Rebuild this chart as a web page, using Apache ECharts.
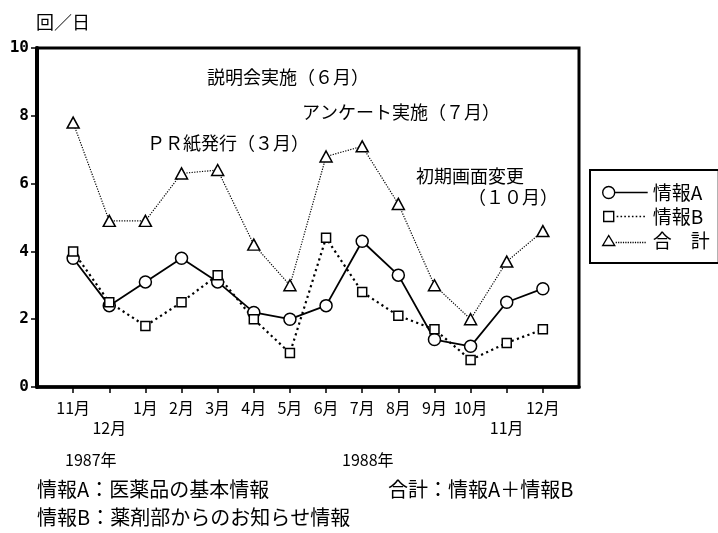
<!DOCTYPE html>
<html><head><meta charset="utf-8">
<script src="https://cdn.jsdelivr.net/npm/echarts@6/dist/echarts.min.js"></script>
<style>html,body{margin:0;padding:0;background:#fff}#c{width:718px;height:533px}</style>
</head><body><div id="c"></div>
<script>
// ---- data ----
const months = ['11月','12月','1月','2月','3月','4月','5月','6月','7月','8月','9月','10月','11月','12月'];
const loweredLabels = [1, 12];
const infoA = [3.8, 2.4, 3.1, 3.8, 3.1, 2.2, 2.0, 2.4, 4.3, 3.3, 1.4, 1.2, 2.5, 2.9];
const infoB = [4.0, 2.5, 1.8, 2.5, 3.3, 2.0, 1.0, 4.4, 2.8, 2.1, 1.7, 0.8, 1.3, 1.7];
const total = [7.8, 4.9, 4.9, 6.3, 6.4, 4.2, 3.0, 6.8, 7.1, 5.4, 3.0, 2.0, 3.7, 4.6];
const seriesNames = ['情報A', '情報B', '合　計'];
const yMin = 0, yMax = 10, yStep = 2;

const JP = '"Noto Sans CJK JP", sans-serif';
const idx = months.map((m, i) => i);

function dots(x0, x1, y, len, gap) {
  let s = '';
  for (let x = x0; x + len <= x1; x += len + gap) s += ' M' + x + ',' + y + ' L' + (x + len) + ',' + y;
  return s;
}
const iconA = 'path://M0,6 A6,6 0 1,1 12,6 A6,6 0 1,1 0,6 Z M12,6 L45,6';
const iconB = 'path://M0,0 L0,0 M45,12 L45,12 M1,1 L11,1 L11,11 L1,11 Z' + dots(14, 45, 6, 1.6, 2.2);
const iconT = 'path://M0,0 L0,0 M45,12 L45,12 M0,11 L6,1 L12,11 Z' + dots(13, 45, 8, 1.2, 1.2);
const legStyle = {color: '#fff', borderColor: '#000', borderWidth: 1.4};

const chart = echarts.init(document.getElementById('c'));
chart.setOption({
  animation: false,
  backgroundColor: '#fff',
  grid: {left: 37, right: 139, top: 48, bottom: 146, show: true, borderColor: '#000', borderWidth: 3},
  xAxis: {
    type: 'value', min: -1, max: months.length, interval: 1,
    axisLine: {onZero: false, lineStyle: {color: '#000', width: 3.5}},
    axisTick: {show: true, customValues: idx, length: 6, lineStyle: {color: '#000', width: 1.5}},
    axisLabel: {
      customValues: idx, color: '#000', fontFamily: JP, fontSize: 16, lineHeight: 20, margin: 11,
      formatter: v => (loweredLabels.indexOf(v) >= 0 ? '\n' : '') + months[v]
    },
    splitLine: {show: false}
  },
  yAxis: {
    type: 'value', min: yMin, max: yMax, interval: yStep,
    axisLine: {show: true, onZero: false, lineStyle: {color: '#000', width: 4}},
    axisTick: {show: true, length: 6, lineStyle: {color: '#000', width: 1.5}},
    axisLabel: {color: '#000', fontFamily: '"DejaVu Sans Mono", monospace', fontWeight: 'bold', fontSize: 16, margin: 8},
    splitLine: {show: false}
  },
  legend: {
    orient: 'vertical', left: 590, top: 170, padding: [13, 9, 13, 12],
    itemGap: 5, itemWidth: 45, itemHeight: 12, itemTextGap: 3,
    borderColor: '#000', borderWidth: 2, selectedMode: false,
    textStyle: {color: '#000', fontFamily: JP, fontSize: 19, lineHeight: 18},
    data: [
      {name: seriesNames[0], icon: iconA, itemStyle: legStyle},
      {name: seriesNames[1], icon: iconB, itemStyle: legStyle},
      {name: seriesNames[2], icon: iconT, itemStyle: legStyle}
    ]
  },
  series: [
    {name: seriesNames[0], type: 'line', data: infoA.map((v, i) => [i, v]),
     symbol: 'circle', symbolSize: 12,
     itemStyle: {color: '#fff', borderColor: '#000', borderWidth: 1.5},
     lineStyle: {color: '#000', width: 1.8, type: 'solid'}},
    {name: seriesNames[1], type: 'line', data: infoB.map((v, i) => [i, v]),
     symbol: 'rect', symbolSize: 9,
     itemStyle: {color: '#fff', borderColor: '#000', borderWidth: 1.5},
     lineStyle: {color: '#000', width: 2.2, type: [2.2, 3.4]}},
    {name: seriesNames[2], type: 'line', data: total.map((v, i) => [i, v]),
     symbol: 'triangle', symbolSize: [12, 11],
     itemStyle: {color: '#fff', borderColor: '#000', borderWidth: 1.5},
     lineStyle: {color: '#000', width: 1.2, type: [1.2, 1.4]}}
  ],
  graphic: [
    {type: 'text', left: 36, top: 13, style: {text: '回／日', font: '18px ' + JP, fill: '#000'}},
    {type: 'text', left: 207, top: 68, style: {text: '説明会実施（６月）', font: '18px ' + JP, fill: '#000'}},
    {type: 'text', left: 302, top: 103, style: {text: 'アンケート実施（７月）', font: '18px ' + JP, fill: '#000'}},
    {type: 'text', left: 147, top: 134, style: {text: 'ＰＲ紙発行（３月）', font: '18px ' + JP, fill: '#000'}},
    {type: 'text', left: 416, top: 167, style: {text: '初期画面変更', font: '18px ' + JP, fill: '#000'}},
    {type: 'text', left: 468, top: 188, style: {text: '（１０月）', font: '18px ' + JP, fill: '#000'}},
    {type: 'text', left: 65, top: 452, style: {text: '1987年', font: '16px ' + JP, fill: '#000'}},
    {type: 'text', left: 342, top: 452, style: {text: '1988年', font: '16px ' + JP, fill: '#000'}},
    {type: 'text', left: 37, top: 479, style: {text: '情報A：医薬品の基本情報', font: '20px ' + JP, fill: '#000'}},
    {type: 'text', left: 388, top: 479, style: {text: '合計：情報A＋情報B', font: '20px ' + JP, fill: '#000'}},
    {type: 'text', left: 37, top: 507, style: {text: '情報B：薬剤部からのお知らせ情報', font: '20px ' + JP, fill: '#000'}}
  ]
});
</script>
</body></html>
